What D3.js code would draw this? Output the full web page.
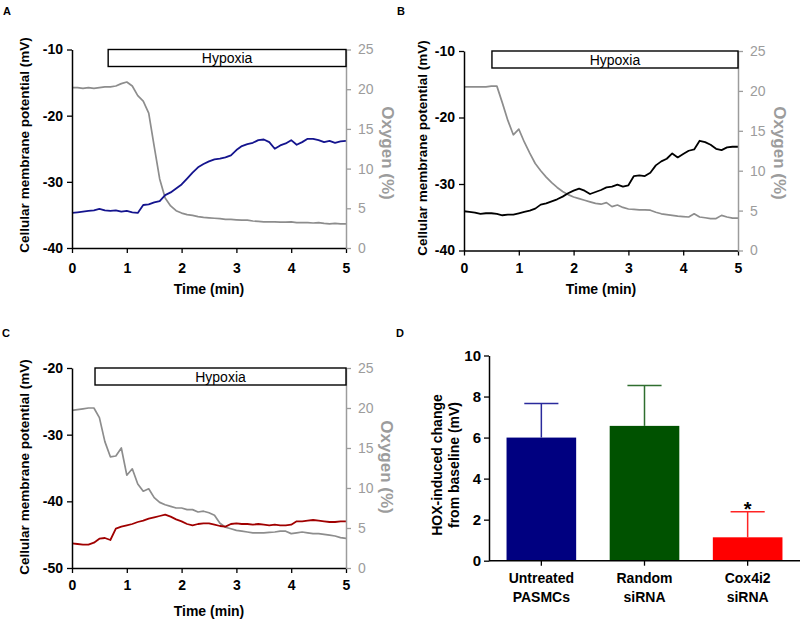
<!DOCTYPE html>
<html lang="en">
<head>
  <meta charset="utf-8">
  <title>Hypoxia and membrane potential</title>
  <script src="https://cdn.jsdelivr.net/npm/d3@7"></script>
  <style>
    body { margin: 0; background: #fff; }
    svg { display: block; font-family: "Liberation Sans", Arial, sans-serif; }
  </style>
</head>
<body>
<script>
// time axis shared by the three recordings (min)
var timeMin = [0.0, 0.1, 0.2, 0.3, 0.4, 0.5, 0.6, 0.7, 0.8, 0.9,
               1.0, 1.1, 1.2, 1.3, 1.4, 1.5, 1.6, 1.7, 1.8, 1.9,
               2.0, 2.1, 2.2, 2.3, 2.4, 2.5, 2.6, 2.7, 2.8, 2.9,
               3.0, 3.1, 3.2, 3.3, 3.4, 3.5, 3.6, 3.7, 3.8, 3.9,
               4.0, 4.1, 4.2, 4.3, 4.4, 4.5, 4.6, 4.7, 4.8, 4.9, 5.0];

// A: untreated PASMC
var vmA = [-34.7, -34.6, -34.5, -34.4, -34.3, -34.1, -34.3, -34.4, -34.3, -34.5,
           -34.4, -34.6, -34.7, -33.5, -33.4, -33.1, -32.9, -32.0, -31.6, -31.0,
           -30.4, -29.5, -28.6, -27.8, -27.3, -26.9, -26.6, -26.5, -26.3, -26.0,
           -25.2, -24.6, -24.3, -24.1, -23.7, -23.6, -24.0, -25.0, -24.5, -24.2,
           -23.7, -24.4, -24.0, -23.5, -23.5, -23.7, -24.0, -23.8, -24.1, -23.9, -23.8];
var o2A = [20.2, 20.2, 20.1, 20.2, 20.1, 20.2, 20.3, 20.3, 20.4, 20.7,
           20.9, 20.4, 19.2, 18.5, 17.0, 12.8, 8.7, 6.3, 5.3, 4.7,
           4.4, 4.2, 4.1, 3.95, 3.85, 3.8, 3.75, 3.7, 3.6, 3.6,
           3.55, 3.5, 3.5, 3.4, 3.35, 3.3, 3.3, 3.3, 3.25, 3.25,
           3.3, 3.2, 3.2, 3.2, 3.15, 3.2, 3.1, 3.05, 3.1, 3.05, 3.05];

// B: random siRNA
var vmB = [-34.1, -34.2, -34.3, -34.5, -34.4, -34.4, -34.5, -34.7, -34.6, -34.6,
           -34.4, -34.2, -34.0, -33.7, -33.1, -32.9, -32.6, -32.3, -31.9, -31.4,
           -31.0, -30.7, -31.0, -31.5, -31.2, -30.9, -30.5, -30.4, -30.1, -30.4,
           -30.2, -28.8, -28.7, -28.8, -28.3, -27.2, -26.6, -26.2, -25.4, -26.0,
           -25.5, -25.0, -24.8, -23.5, -23.7, -24.1, -24.7, -24.9, -24.5, -24.4, -24.4];
var o2B = [20.5, 20.5, 20.5, 20.5, 20.5, 20.6, 20.6, 18.5, 16.3, 14.5,
           15.2, 13.6, 12.2, 10.9, 10.0, 9.2, 8.5, 7.9, 7.4, 7.0,
           6.7, 6.5, 6.3, 6.1, 5.9, 5.8, 6.0, 5.5, 5.7, 5.4,
           5.2, 5.15, 5.1, 5.1, 5.05, 4.8, 4.6, 4.5, 4.4, 4.3,
           4.25, 4.2, 4.6, 4.2, 4.1, 4.0, 4.0, 4.4, 4.2, 4.05, 4.05];

// C: Cox4i2 siRNA
var vmC = [-46.3, -46.4, -46.5, -46.5, -46.2, -45.6, -45.5, -45.8, -44.1, -43.8,
           -43.6, -43.4, -43.1, -42.9, -42.6, -42.4, -42.2, -42.0, -42.3, -42.7,
           -43.0, -43.4, -43.6, -43.4, -43.3, -43.3, -43.5, -43.7, -43.8, -43.4,
           -43.3, -43.4, -43.4, -43.5, -43.4, -43.5, -43.6, -43.5, -43.6, -43.6,
           -43.5, -43.0, -43.0, -42.9, -42.8, -42.9, -43.0, -43.1, -43.1, -43.0, -43.0];
var o2C = [19.7, 19.8, 19.9, 20.0, 20.0, 18.8, 15.8, 13.9, 14.0, 15.0,
           11.6, 12.4, 10.5, 9.6, 9.9, 8.8, 8.2, 7.9, 7.7, 7.5,
           7.5, 7.3, 7.3, 7.0, 7.1, 6.9, 6.6, 5.6, 5.1, 4.9,
           4.7, 4.6, 4.5, 4.4, 4.4, 4.4, 4.45, 4.5, 4.6, 4.6,
           4.3, 4.4, 4.5, 4.4, 4.3, 4.3, 4.2, 4.1, 4.0, 3.8, 3.7];

// start of the hypoxia period in A, B, C (min)
var hypoxiaOnset = [0.66, 0.51, 0.42];

var timeTicks = [0, 1, 2, 3, 4, 5];
var o2Ticks = [0, 5, 10, 15, 20, 25];
var vmTicksAB = [-40, -30, -20, -10];
var vmTicksC = [-50, -40, -30, -20];

// D: summary bars
var groupLine1 = ["Untreated", "Random", "Cox4i2"];
var groupLine2 = ["PASMCs", "siRNA", "siRNA"];
var hoxMean = [6.0, 6.57, 1.14];
var hoxSem = [1.66, 1.97, 1.25];
var hoxTicks = [0, 2, 4, 6, 8, 10];
var significant = [false, false, true];

var svg = d3.select('body').append('svg')
            .attr('width', 800)
            .attr('height', 619);

var grayLine = '#8d8d8d';
var grayAxis = '#9c9c9c';

// plain hyphen minus, as in the figure
function plain(d) { return String(d); }

var panels = [
  {letter: 'A', lx: 3, ly: 15, left: 72, right: 346, top: 49.5, bottom: 248,
   vm: vmA, o2: o2A, vmDomain: [-40, -10], vmTicks: vmTicksAB, color: '#14148e',
   onset: hypoxiaOnset[0], xPad: 10, timeY: 294, yTitleX: 24, yTitleY: 145, oxX: 388, oxY: 153},
  {letter: 'B', lx: 397, ly: 15, left: 464, right: 738, top: 51, bottom: 250.5,
   vm: vmB, o2: o2B, vmDomain: [-40, -10], vmTicks: vmTicksAB, color: '#000000',
   onset: hypoxiaOnset[1], xPad: 8, timeY: 294, yTitleX: 422, yTitleY: 148, oxX: 780, oxY: 153},
  {letter: 'C', lx: 2, ly: 337, left: 72, right: 346, top: 368, bottom: 568,
   vm: vmC, o2: o2C, vmDomain: [-50, -20], vmTicks: vmTicksC, color: '#a00000',
   onset: hypoxiaOnset[2], xPad: 7.5, timeY: 616, yTitleX: 24, yTitleY: 467, oxX: 387, oxY: 467}
];

function styleAxis(g, color, size, weight) {
  g.attr('color', color)
   .attr('font-family', null)
   .attr('font-size', null);
  g.select('.domain').attr('stroke-width', 1.5);
  g.selectAll('.tick line').attr('stroke-width', 1.3);
  g.selectAll('.tick text')
   .style('font-size', size + 'px')
   .style('font-weight', weight);
}

function drawTrace(p) {
  var g = svg.append('g');

  var x = d3.scaleLinear().domain([0, 5]).range([p.left, p.right]);
  var yV = d3.scaleLinear().domain(p.vmDomain).range([p.bottom, p.top]);
  var yO = d3.scaleLinear().domain([0, 25]).range([p.bottom, p.top]);

  var lineO = d3.line().x(function(d, i) { return x(timeMin[i]); }).y(function(d) { return yO(d); });
  var lineV = d3.line().x(function(d, i) { return x(timeMin[i]); }).y(function(d) { return yV(d); });

  g.append('path').datum(p.o2)
   .attr('d', lineO)
   .attr('fill', 'none')
   .attr('stroke', grayLine)
   .attr('stroke-width', 1.7)
   .attr('stroke-linejoin', 'round');

  g.append('path').datum(p.vm)
   .attr('d', lineV)
   .attr('fill', 'none')
   .attr('stroke', p.color)
   .attr('stroke-width', 1.8)
   .attr('stroke-linejoin', 'round');

  // axes
  var gx = g.append('g').attr('transform', 'translate(0,' + p.bottom + ')')
            .call(d3.axisBottom(x).tickValues(timeTicks).tickFormat(plain)
                    .tickSize(5).tickSizeOuter(0).tickPadding(p.xPad));
  styleAxis(gx, '#000', 14, 'bold');

  var gl = g.append('g').attr('transform', 'translate(' + p.left + ',0)')
            .call(d3.axisLeft(yV).tickValues(p.vmTicks).tickFormat(plain)
                    .tickSize(5).tickSizeOuter(0).tickPadding(4));
  styleAxis(gl, '#000', 14, 'bold');

  var gr = g.append('g').attr('transform', 'translate(' + p.right + ',0)')
            .call(d3.axisRight(yO).tickValues(o2Ticks).tickFormat(plain)
                    .tickSize(5).tickSizeOuter(0).tickPadding(7));
  styleAxis(gr, grayAxis, 14, 'normal');

  // hypoxia bar
  g.append('rect')
   .attr('x', x(p.onset))
   .attr('y', p.top)
   .attr('width', x(5) - x(p.onset))
   .attr('height', 17)
   .attr('fill', '#fff')
   .attr('stroke', '#000')
   .attr('stroke-width', 1.4);
  g.append('text')
   .attr('x', (x(p.onset) + x(5)) / 2)
   .attr('y', p.top + 13.5)
   .attr('text-anchor', 'middle')
   .style('font-size', '14px')
   .text('Hypoxia');

  // titles
  g.append('text')
   .attr('transform', 'translate(' + ((p.left + p.right) / 2) + ',' + p.timeY + ')')
   .attr('text-anchor', 'middle')
   .style('font-size', '14px')
   .style('font-weight', 'bold')
   .text('Time (min)');

  g.append('text')
   .attr('transform', 'translate(' + p.yTitleX + ',' + p.yTitleY + ') rotate(-90)')
   .attr('text-anchor', 'middle')
   .attr('dy', '0.35em')
   .style('font-size', '13.5px')
   .style('font-weight', 'bold')
   .text('Cellular membrane potential (mV)');

  g.append('text')
   .attr('transform', 'translate(' + p.oxX + ',' + p.oxY + ') rotate(90)')
   .attr('text-anchor', 'middle')
   .attr('dy', '0.35em')
   .attr('fill', grayAxis)
   .style('font-size', '17px')
   .style('font-weight', 'bold')
   .text('Oxygen (%)');

  svg.append('text')
     .attr('x', p.lx).attr('y', p.ly)
     .style('font-size', '11px')
     .style('font-weight', 'bold')
     .text(p.letter);
}

panels.forEach(drawTrace);

// panel D
function drawBars() {
  var g = svg.append('g');
  var barFill = ['#000080', '#005200', '#ff0000'];
  var errColor = ['#2a2a9c', '#2f6e2f', '#ff2424'];

  var x = d3.scaleBand().domain(groupLine1).range([489, 800])
            .paddingInner(0.325).paddingOuter(0.17);
  var y = d3.scaleLinear().domain([0, 10]).range([560.7, 355.5]);

  g.selectAll('rect.bar').data(groupLine1).enter()
   .append('rect')
   .attr('class', 'bar')
   .attr('x', function(d) { return x(d); })
   .attr('y', function(d, i) { return y(hoxMean[i]); })
   .attr('width', x.bandwidth())
   .attr('height', function(d, i) { return y(0) - y(hoxMean[i]); })
   .attr('fill', function(d, i) { return barFill[i]; });

  var capW = x.bandwidth() * 0.49;
  var err = g.selectAll('g.err').data(groupLine1).enter()
             .append('g').attr('class', 'err')
             .attr('stroke', function(d, i) { return errColor[i]; })
             .attr('stroke-width', 1.5);
  err.append('line')
     .attr('x1', function(d) { return x(d) + x.bandwidth() / 2; })
     .attr('x2', function(d) { return x(d) + x.bandwidth() / 2; })
     .attr('y1', function(d, i) { return y(hoxMean[i]); })
     .attr('y2', function(d, i) { return y(hoxMean[i] + hoxSem[i]); });
  err.append('line')
     .attr('x1', function(d) { return x(d) + x.bandwidth() / 2 - capW / 2; })
     .attr('x2', function(d) { return x(d) + x.bandwidth() / 2 + capW / 2; })
     .attr('y1', function(d, i) { return y(hoxMean[i] + hoxSem[i]); })
     .attr('y2', function(d, i) { return y(hoxMean[i] + hoxSem[i]); });

  g.selectAll('text.star').data(groupLine1.filter(function(d, i) { return significant[i]; })).enter()
   .append('text')
   .attr('class', 'star')
   .attr('x', function(d) { return x(d) + x.bandwidth() / 2; })
   .attr('y', function(d) { var i = groupLine1.indexOf(d); return y(hoxMean[i] + hoxSem[i]) + 4.5; })
   .attr('text-anchor', 'middle')
   .style('font-size', '20px')
   .style('font-weight', 'bold')
   .text('*');

  var gx = g.append('g').attr('transform', 'translate(0,' + y(0) + ')')
            .call(d3.axisBottom(x).tickSize(5).tickSizeOuter(0).tickFormat(''));
  styleAxis(gx, '#000', 14, 'bold');
  gx.select('.domain').attr('d', 'M489,0H800');

  var labels = g.selectAll('text.cat').data(groupLine1).enter()
                .append('text')
                .attr('class', 'cat')
                .attr('text-anchor', 'middle')
                .style('font-size', '14px')
                .style('font-weight', 'bold');
  labels.append('tspan')
        .attr('x', function(d) { return x(d) + x.bandwidth() / 2; })
        .attr('y', 583)
        .text(function(d) { return d; });
  labels.append('tspan')
        .attr('x', function(d) { return x(d) + x.bandwidth() / 2; })
        .attr('y', 601.5)
        .text(function(d, i) { return groupLine2[i]; });

  var gy = g.append('g').attr('transform', 'translate(489,0)')
            .call(d3.axisLeft(y).tickValues(hoxTicks).tickFormat(plain)
                    .tickSize(5).tickSizeOuter(0).tickPadding(3));
  styleAxis(gy, '#000', 15, 'bold');

  g.append('text')
   .attr('transform', 'translate(437.5,465) rotate(-90)')
   .attr('text-anchor', 'middle').attr('dy', '0.35em')
   .style('font-size', '14px').style('font-weight', 'bold')
   .text('HOX-induced change');
  g.append('text')
   .attr('transform', 'translate(454.5,465) rotate(-90)')
   .attr('text-anchor', 'middle').attr('dy', '0.35em')
   .style('font-size', '14px').style('font-weight', 'bold')
   .text('from baseline (mV)');

  svg.append('text')
     .attr('x', 396).attr('y', 337)
     .style('font-size', '11px')
     .style('font-weight', 'bold')
     .text('D');
}

drawBars();
</script>
</body>
</html>
